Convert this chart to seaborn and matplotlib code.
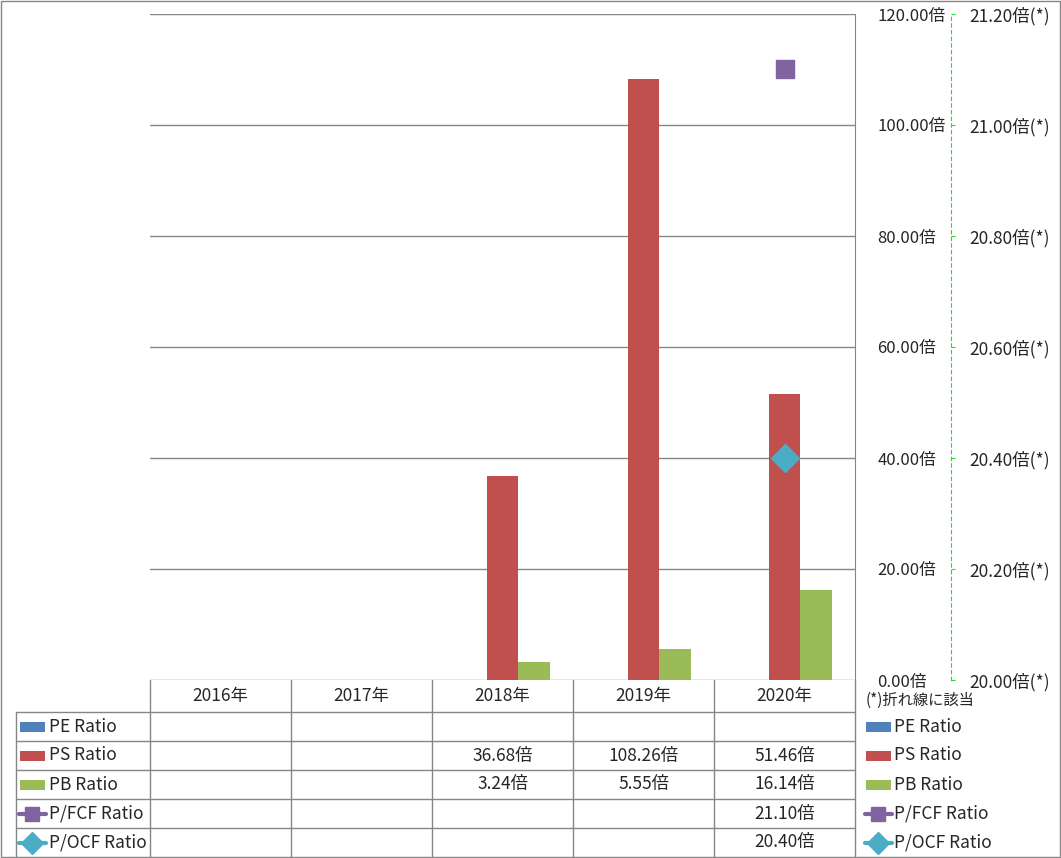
import numpy as np
import pandas as pd
import seaborn as sns
import matplotlib.pyplot as plt
from matplotlib.patches import Rectangle

# data
years = ['2016年', '2017年', '2018年', '2019年', '2020年']
pe_ratio = [np.nan, np.nan, np.nan, np.nan, np.nan]
ps_ratio = [np.nan, np.nan, 36.68, 108.26, 51.46]
pb_ratio = [np.nan, np.nan, 3.24, 5.55, 16.14]
pfcf_ratio = [np.nan, np.nan, np.nan, np.nan, 21.10]
pocf_ratio = [np.nan, np.nan, np.nan, np.nan, 20.40]

bar_names = ['PE Ratio', 'PS Ratio', 'PB Ratio']
line_names = ['P/FCF Ratio', 'P/OCF Ratio']
bar_colors = ['#4F81BD', '#C0504D', '#9BBB59']
line_colors = ['#8064A2', '#4BACC6']
line_markers = ['s', 'D']

sns.set_style('white')
plt.rcParams['font.family'] = ['Noto Sans CJK JP', 'DejaVu Sans']
FS = 12.5

W, H = 1061, 858
fig = plt.figure(figsize=(W / 100, H / 100), dpi=100)

# plot area in pixels
x0, x1, ytop, ybot = 150, 855, 14, 680
ax = fig.add_axes([x0 / W, 1 - ybot / H, (x1 - x0) / W, (ybot - ytop) / H])
ax.patch.set_alpha(0)

df = pd.DataFrame({
    'year': years * 3,
    'series': sum([[n] * len(years) for n in bar_names], []),
    'value': pe_ratio + ps_ratio + pb_ratio,
})
sns.barplot(data=df, x='year', y='value', hue='series', order=years,
            hue_order=bar_names, palette=bar_colors, width=0.68,
            saturation=1, legend=False, linewidth=0, ax=ax, zorder=3)
ax.set_xlim(-0.5, len(years) - 0.5)
ax.set_ylim(0, 120)
ax.set_xticks([])
ax.set_xlabel('')
ax.set_ylabel('')
ax.grid(axis='y', color='#868686', lw=1, zorder=0)
ax.set_axisbelow(True)

ax2 = ax.twinx()
pos = np.arange(len(years))
for vals, c, m in zip([pfcf_ratio, pocf_ratio], line_colors, line_markers):
    ax2.plot(pos, vals, color=c, marker=m, markersize=13 if m == 's' else 14,
             lw=2.5, zorder=5)
ax2.set_ylim(20, 21.2)
sec_ticks = np.round(np.arange(20, 21.21, 0.2), 2)
ax2.set_yticks(sec_ticks)
ax2.set_yticklabels([f'{v:.2f}倍(*)' for v in sec_ticks])
ax2.spines['right'].set_position(('outward', 69))
ax2.spines['right'].set_color('#22DD22')
ax2.spines['right'].set_linestyle((0, (3, 3)))
for s in ['left', 'top', 'bottom']:
    ax2.spines[s].set_visible(False)
ax2.tick_params(axis='y', length=3, color='#22DD22', pad=10, labelsize=FS)

# primary axis labels sit on the right, inside the secondary spine
ax.yaxis.tick_right()
ax.set_yticks(np.arange(0, 121, 20))
ax.set_yticklabels([f'{v:.2f}倍' for v in np.arange(0, 121, 20)])
ax.tick_params(axis='y', which='both', left=False, right=False,
               labelleft=False, labelright=True, length=0, pad=16, labelsize=12)
for s in ['left', 'top', 'bottom']:
    ax.spines[s].set_visible(False)
ax.spines['right'].set_visible(True)
ax.spines['right'].set_color('#868686')

# overlay in pixel coordinates for data table and legend
ov = fig.add_axes([0, 0, 1, 1], zorder=-1)
ov.set_xlim(0, W)
ov.set_ylim(H, 0)
ov.axis('off')
gc = '#868686'
ov.add_patch(Rectangle((0.5, 0.5), W - 1.5, H - 1.5, fill=False, ec=gc, lw=1))

col_edges = np.linspace(x0, x1, len(years) + 1)
row_edges = [680, 712, 741, 770, 799, 828, 857]
for xe in col_edges:
    ov.plot([xe, xe], [row_edges[0], row_edges[-1]], color=gc, lw=1)
ov.plot([16, 16], [row_edges[1], row_edges[-1]], color=gc, lw=1)
for ye in row_edges[1:-1]:
    ov.plot([16, x1], [ye, ye], color=gc, lw=1)

centers = (col_edges[:-1] + col_edges[1:]) / 2
for cx, yl in zip(centers, years):
    ov.text(cx, (row_edges[0] + row_edges[1]) / 2, yl, ha='center', va='center', fontsize=FS)

all_names = bar_names + line_names
all_vals = [pe_ratio, ps_ratio, pb_ratio, pfcf_ratio, pocf_ratio]
all_colors = bar_colors + line_colors


def draw_key(xk, yc, i):
    if i < 3:
        ov.add_patch(Rectangle((xk, yc - 5), 25, 10, color=all_colors[i], lw=0))
    else:
        ov.plot([xk - 1, xk + 26], [yc, yc], color=all_colors[i], lw=3,
                solid_capstyle='round')
        ov.plot([xk + 12], [yc], marker=line_markers[i - 3],
                color=all_colors[i], markersize=10 if i == 3 else 11)


for i, (name, vals) in enumerate(zip(all_names, all_vals)):
    yc = (row_edges[i + 1] + row_edges[i + 2]) / 2
    draw_key(20, yc, i)
    ov.text(49, yc, name, ha='left', va='center', fontsize=FS)
    for cx, v in zip(centers, vals):
        if not np.isnan(v):
            ov.text(cx, yc, f'{v:.2f}倍', ha='center', va='center', fontsize=FS)
    # right legend
    draw_key(866, yc, i)
    ov.text(894, yc, name, ha='left', va='center', fontsize=FS)

ov.text(866, 700, '(*)折れ線に該当', ha='left', va='center', fontsize=11)

fig.savefig('out.png', dpi=100)
